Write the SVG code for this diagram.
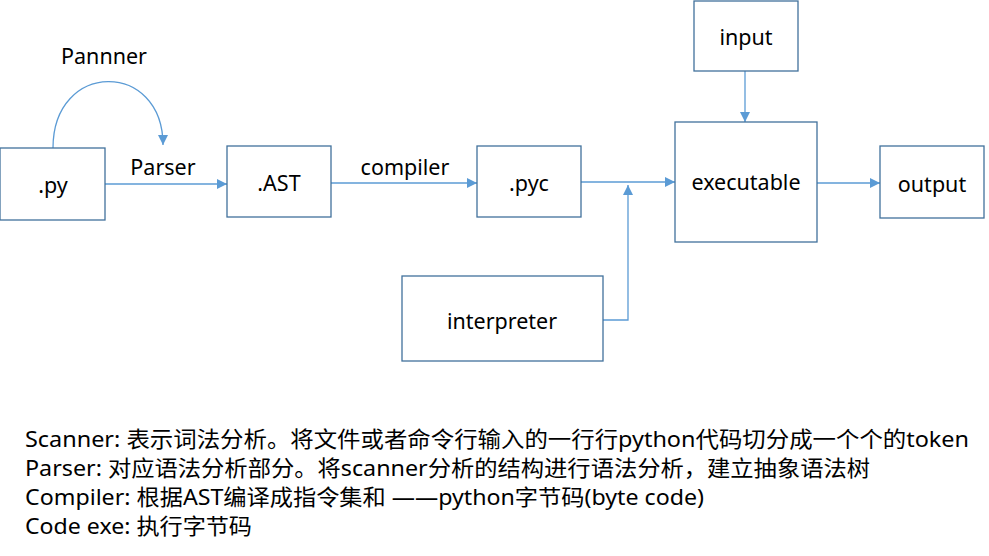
<svg xmlns="http://www.w3.org/2000/svg" width="989" height="556" viewBox="0 0 989 556">
<defs>
<marker id="arr" viewBox="0 0 10 10" refX="10" refY="5" markerWidth="10" markerHeight="10" markerUnits="userSpaceOnUse" orient="auto">
<path d="M0,0 L10,5 L0,10 z" fill="#5B9BD5"/>
</marker>
<style>
.box{fill:#fff;stroke:#41719C;stroke-width:1.3}
.t{font-family:"Noto Sans","Noto Sans CJK SC",sans-serif;font-size:21.5px;fill:#000;text-anchor:middle;dominant-baseline:central}
.c{fill:none;stroke:#5B9BD5;stroke-width:1.3}
.n{font-family:"Noto Sans","Noto Sans CJK SC",sans-serif;font-size:22px;fill:#000}
</style>
</defs>
<rect width="989" height="556" fill="#fff"/>
<g id="connectors">
<path class="c" d="M53,148 C53,60 163,60 163,145" marker-end="url(#arr)"/>
<path class="c" d="M105,184 L227,184" marker-end="url(#arr)"/>
<path class="c" d="M331,183 L477,183" marker-end="url(#arr)"/>
<path class="c" d="M581,182 L675,182" marker-end="url(#arr)"/>
<path class="c" d="M603,320 L628,320 L628,185" marker-end="url(#arr)"/>
<path class="c" d="M745,71 L745,122" marker-end="url(#arr)"/>
<path class="c" d="M817,183 L880,183" marker-end="url(#arr)"/>
</g>
<g id="label-pannner"><text class="t" x="104" y="55">Pannner</text></g>
<g id="label-parser"><text class="t" x="163" y="166">Parser</text></g>
<g id="label-compiler"><text class="t" x="405" y="166">compiler</text></g>
<g id="node-py"><rect class="box" x="0" y="148" width="105" height="72"/><text class="t" x="53" y="184">.py</text></g>
<g id="node-ast"><rect class="box" x="227" y="146" width="104" height="71"/><text class="t" x="279" y="182">.AST</text></g>
<g id="node-pyc"><rect class="box" x="477" y="146" width="104" height="71"/><text class="t" x="529" y="182">.pyc</text></g>
<g id="node-input"><rect class="box" x="694" y="1" width="104" height="70"/><text class="t" x="746" y="36">input</text></g>
<g id="node-executable"><rect class="box" x="675" y="122" width="142" height="120"/><text class="t" x="746" y="181">executable</text></g>
<g id="node-output"><rect class="box" x="880" y="146" width="104" height="72"/><text class="t" x="932" y="183">output</text></g>
<g id="node-interpreter"><rect class="box" x="402" y="276" width="201" height="85"/><text class="t" x="502" y="320">interpreter</text></g>
<g id="notes">
<text class="n" x="25" y="447" textLength="944" lengthAdjust="spacingAndGlyphs">Scanner: 表示词法分析。将文件或者命令行输入的一行行python代码切分成一个个的token</text>
<text class="n" x="25" y="476" textLength="845" lengthAdjust="spacingAndGlyphs">Parser: 对应语法分析部分。将scanner分析的结构进行语法分析，建立抽象语法树</text>
<text class="n" x="25" y="505" textLength="679" lengthAdjust="spacingAndGlyphs">Compiler: 根据AST编译成指令集和 ——python字节码(byte code)</text>
<text class="n" x="25" y="534" textLength="227" lengthAdjust="spacingAndGlyphs">Code exe: 执行字节码</text>
</g>
</svg>
